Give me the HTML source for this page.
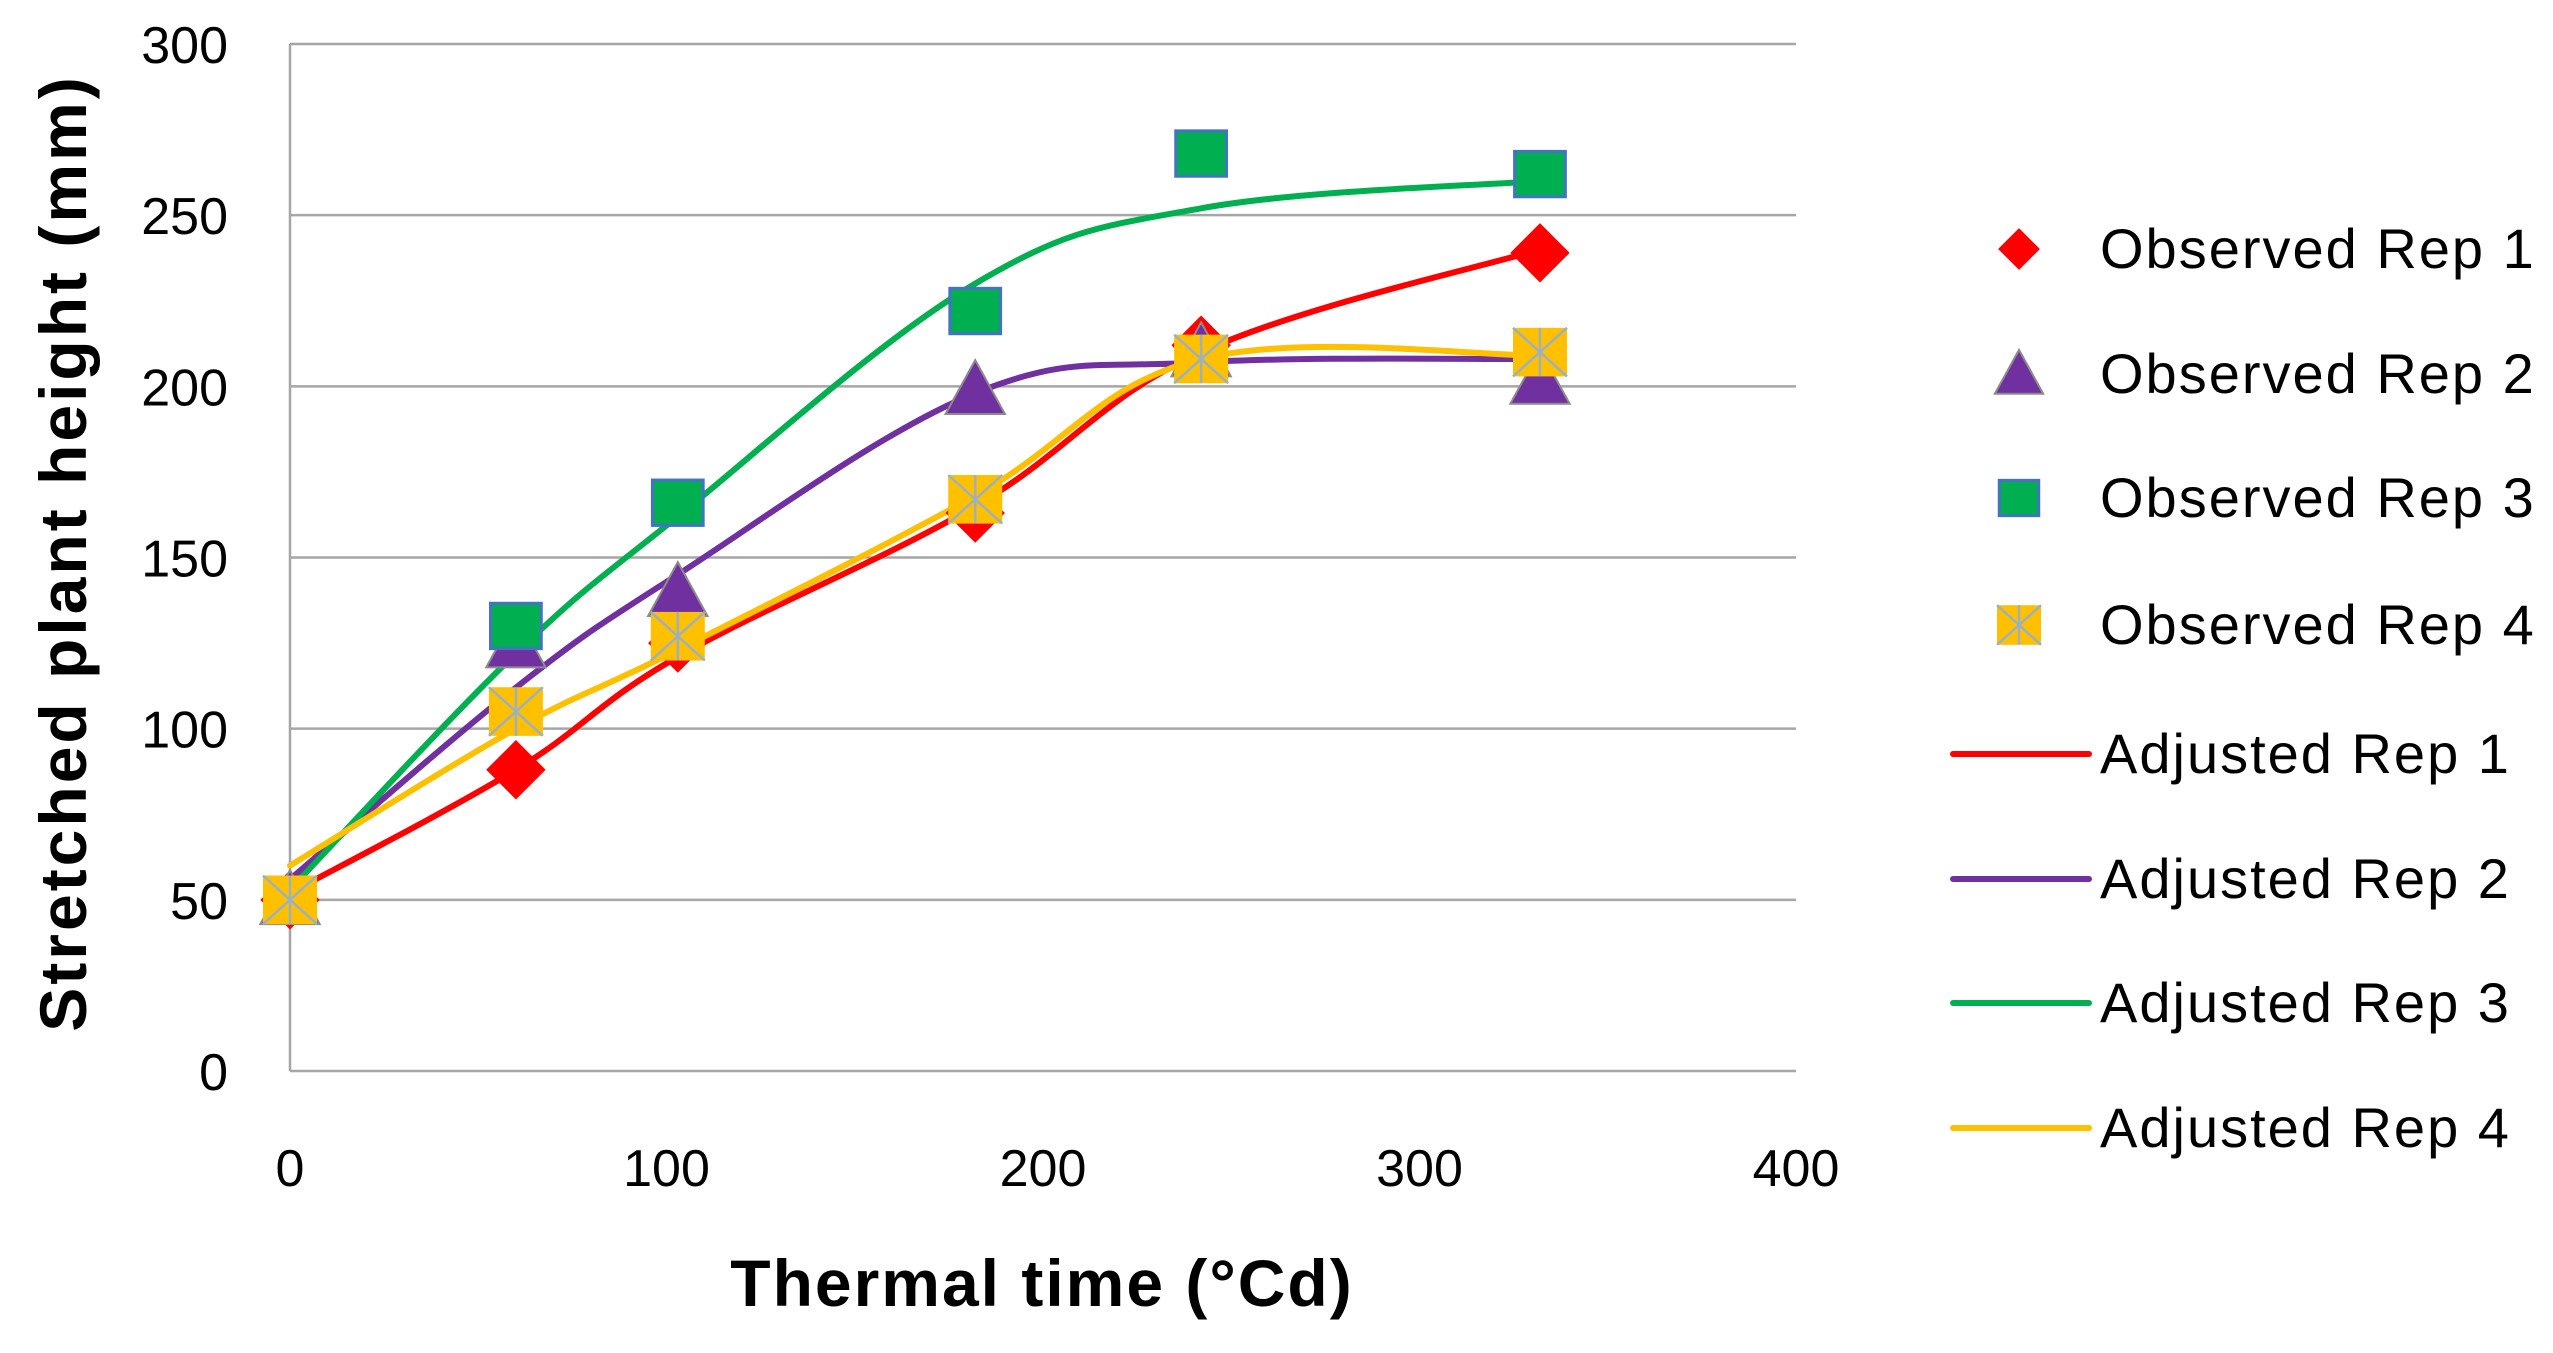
<!DOCTYPE html>
<html><head><meta charset="utf-8"><style>
html,body{margin:0;padding:0;background:#fff;}
svg{display:block;font-family:"Liberation Sans",sans-serif;}
</style></head><body>
<svg id="chart" width="2553" height="1353" viewBox="0 0 2553 1353">
<g id="grid"></g>
<g id="axes"></g>
<g id="lines"></g>
<g id="marks"></g>
<text transform="translate(86,553) rotate(-90)" text-anchor="middle" font-size="66" font-weight="bold" letter-spacing="3" fill="#000">Stretched plant height (mm)</text>
<text x="1042" y="1306" text-anchor="middle" font-size="66" font-weight="bold" letter-spacing="2" fill="#000">Thermal time (°Cd)</text>
<g id="legend"></g>
</svg>
<script>
const xVals=[0,60,103,182,242,332];
const obs1=[50,88,125,163,212,239];
const obs2=[50,125,140,199,210,202];
const obs3=[50,130,166,222,268,262];
const obs4=[50,105,127,167,208,210];
const adj1=[52,88,121,165,210,240];
const adj2=[56,112,145,198,207,208];
const adj3=[53,122,162,230,252,260];
const adj4=[60,100,123,168,208,209];
const yTicks=[0,50,100,150,200,250,300];
const xTicks=[0,100,200,300,400];
const seriesNames=["Observed Rep 1","Observed Rep 2","Observed Rep 3","Observed Rep 4","Adjusted Rep 1","Adjusted Rep 2","Adjusted Rep 3","Adjusted Rep 4"];

const NS="http://www.w3.org/2000/svg";
const X0=290,X1=1796,Y0=1071,Y1=44;
function sx(v){return X0+(v-0)/400*(X1-X0);}
function sy(v){return Y0-(v-0)/300*(Y0-Y1);}
function mk(tag,attrs,parent){const e=document.createElementNS(NS,tag);for(const k in attrs)e.setAttribute(k,attrs[k]);parent.appendChild(e);return e;}
const grid=document.getElementById('grid'),axes=document.getElementById('axes'),lines=document.getElementById('lines'),marks=document.getElementById('marks'),legend=document.getElementById('legend');

yTicks.forEach(t=>{
  const l=mk('line',{x1:X0,x2:X1,y1:sy(t),y2:sy(t),stroke:'#a6a6a6','stroke-width':2.5},grid);
  
  
  const tx=mk('text',{x:228,y:sy(t)+19,'text-anchor':'end','font-size':52,fill:'#000'},axes);
  tx.textContent=t;
  
  
});
const ax=mk('line',{x1:X0,x2:X0,y1:Y1,y2:Y0,stroke:'#a6a6a6','stroke-width':2.5},axes);


xTicks.forEach(t=>{
  const tx=mk('text',{x:sx(t),y:1186,'text-anchor':'middle','font-size':52,fill:'#000'},axes);
  tx.textContent=t;
  
  
});

function spline(xs,ys){
  const p=xs.map((x,i)=>[sx(x),sy(ys[i])]);
  let d='M'+p[0][0]+','+p[0][1];
  for(let i=0;i<p.length-1;i++){
    const p0=p[i-1]||p[i],p1=p[i],p2=p[i+1],p3=p[i+2]||p[i+1];
    const t=0.18;
    const c1=[p1[0]+(p2[0]-p0[0])*t,p1[1]+(p2[1]-p0[1])*t];
    const c2=[p2[0]-(p3[0]-p1[0])*t,p2[1]-(p3[1]-p1[1])*t];
    d+=' C'+c1[0]+','+c1[1]+' '+c2[0]+','+c2[1]+' '+p2[0]+','+p2[1];
  }
  return d;
}
const colors=['#ff0000','#7030a0','#00b050','#ffc000'];
[adj1,adj2,adj3,adj4].forEach((a,i)=>{
  const p=mk('path',{d:spline(xVals,a),fill:'none',stroke:colors[i],'stroke-width':6,'stroke-linecap':'round'},lines);
  
  
});

function marker(type,cx,cy,parent,s){
  let e;
  if(type==0){e=mk('polygon',{points:`${cx},${cy-s*0.55} ${cx+s*0.55},${cy} ${cx},${cy+s*0.55} ${cx-s*0.55},${cy}`,fill:'#ff0000'},parent);}
  else if(type==1){e=mk('polygon',{points:`${cx},${cy-s*0.55} ${cx+s*0.55},${cy+s*0.45} ${cx-s*0.55},${cy+s*0.45}`,fill:'#7030a0',stroke:'#8c8c8c','stroke-width':2},parent);}
  else if(type==2){e=mk('rect',{x:cx-s*0.47,y:cy-s*0.42,width:s*0.94,height:s*0.84,fill:'#00b050',stroke:'#4472c4','stroke-width':3},parent);}
  else{
    e=mk('g',{},parent);
    mk('rect',{x:cx-s*0.5,y:cy-s*0.45,width:s,height:s*0.9,fill:'#ffc000'},e);
    mk('path',{d:`M${cx-s*0.5},${cy-s*0.45}L${cx+s*0.5},${cy+s*0.45}M${cx+s*0.5},${cy-s*0.45}L${cx-s*0.5},${cy+s*0.45}M${cx},${cy-s*0.45}L${cx},${cy+s*0.45}`,stroke:'#9bb0c0','stroke-width':2.5},e);
  }
  return e;
}
[obs1,obs2,obs3,obs4].forEach((o,i)=>{
  o.forEach((v,j)=>{
    const e=marker(i,sx(xVals[j]),sy(v),marks,54);
    
    
  });
});

const ly=[249,374,498,625,754,879,1003,1128];
seriesNames.forEach((n,i)=>{
  const g=mk('g',{},legend);
  
  
  if(i<4){marker(i,2019,ly[i],g,i==0?38:i==2?42:44);}
  else{mk('line',{x1:1953,x2:2089,y1:ly[i],y2:ly[i],stroke:colors[i-4],'stroke-width':6,'stroke-linecap':'round'},g);}
  const t=mk('text',{x:2100,y:ly[i]+19,'font-size':56,'letter-spacing':2,fill:'#000'},g);
  t.textContent=n;
});
</script>
</body></html>
